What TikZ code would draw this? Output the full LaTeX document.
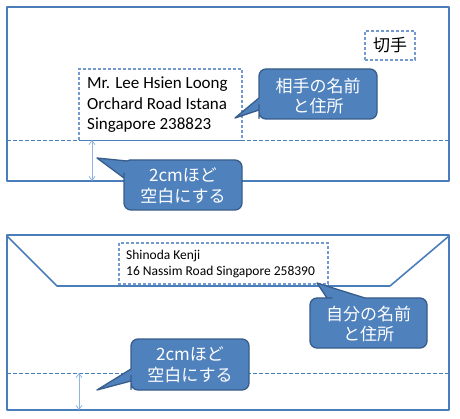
\documentclass[tikz,border=0pt]{standalone}
\usepackage{fontspec}
\setmainfont{Carlito}
\newfontfamily\jp{Noto Sans CJK JP}
\usetikzlibrary{arrows.meta}
\definecolor{envline}{HTML}{4A7EBB}
\definecolor{calfill}{HTML}{4F81BD}
\definecolor{calline}{HTML}{385D8A}
\definecolor{dashc}{HTML}{7399CF}
\definecolor{arrc}{HTML}{8DB3E2}
\begin{document}
\begin{tikzpicture}[x=1pt,y=-1pt,
  envelope/.style={draw=envline,line width=1.8pt,line join=round},
  guide/.style={draw=envline,line width=0.9pt,dash pattern=on 3.5pt off 2.5pt},
  addrbox/.style={draw=dashc,line width=1.1pt,dash pattern=on 3pt off 2pt},
  stampbox/.style={draw=dashc,line width=1.1pt,dash pattern=on 3pt off 2pt,inner sep=0pt,
    minimum width=50pt,minimum height=29pt,font=\jp\fontsize{17}{20}\selectfont,text=black},
  calloutshape/.style={fill=calfill,draw=calline,line width=1.3pt,line join=round},
  callouttext/.style={text=white,font=\jp\fontsize{17}{20.5}\selectfont,align=center,inner sep=0pt},
  addrtext/.style={text=black,align=left,inner sep=0pt},
  gap/.style={draw=arrc,line width=0.8pt,{Straight Barb[length=4pt,width=6pt]}-{Straight Barb[length=4pt,width=6pt]}}
]
\useasboundingbox[fill=white] (0,0) rectangle (460,419);

% ---------- top envelope ----------
\draw[envelope] (7,7) rectangle (449,181);
\draw[guide] (7,140) -- (449,140);
\draw[addrbox] (79,140) -- (79,69) -- (242,69) -- (242,140);
\draw[draw=envline,line width=0.9pt] (79,140) -- (242,140);
\node[addrtext,font=\fontsize{17}{20.5}\selectfont,anchor=west] (addr1) at (87,105)
  {Mr. Lee Hsien Loong\\Orchard Road Istana\\Singapore 238823};
\node[stampbox] (stamp) at (390,45.5) {切手};
\coordinate (g1top) at (92,140);
\coordinate (g1bot) at (92,181);
\draw[gap] (g1top) -- (g1bot);

% callout: recipient
\path[calloutshape] (318,69) [rounded corners=7pt] -- (377,69) -- (377,119) -- (259,119)
  -- (259,111.5) [sharp corners] -- (259,110) -- (235,118) -- (259,98) -- (259,96.5)
  [rounded corners=7pt] -- (259,69) -- cycle;
\node[callouttext] (c1) at (318,96) {相手の名前\\と住所};

% callout: margin (top)
\path[calloutshape] (183,160) [rounded corners=7pt] -- (242,160) -- (242,210) -- (124,210)
  -- (124,180) [sharp corners] -- (124,178) -- (97,158) -- (127,161) -- (130,160) -- cycle;
\node[callouttext] (c2) at (183,186) {2cmほど\\空白にする};

% ---------- bottom envelope ----------
\draw[envelope] (7,235) rectangle (449,410);
\draw[envelope,line width=1.6pt] (7,236) -- (57,286) -- (390,286) -- (449,236);
\draw[guide] (7,373) -- (449,373);
\draw[addrbox] (119,243) rectangle (328,284);
\node[addrtext,font=\fontsize{13.5}{16}\selectfont,anchor=west] (addr2) at (126,264)
  {Shinoda Kenji\\16 Nassim Road Singapore 258390};
\coordinate (g2top) at (79,373);
\coordinate (g2bot) at (79,410);
\draw[gap] (g2top) -- (g2bot);

% callout: sender
\path[calloutshape] (427,323) [rounded corners=7pt] -- (427,348) -- (310,348) -- (310,298)
  -- (325,298) [sharp corners] -- (327,298) -- (317,283) -- (365,298) -- (367,298)
  [rounded corners=7pt] -- (427,298) -- cycle;
\node[callouttext] (c3) at (368.5,324) {自分の名前\\と住所};

% callout: margin (bottom)
\path[calloutshape] (190,339) [rounded corners=7pt] -- (249,339) -- (249,390) -- (131,390)
  -- (131,382.5) [sharp corners] -- (131,381) -- (97,390) -- (131,369) -- (131,367.5)
  [rounded corners=7pt] -- (131,339) -- cycle;
\node[callouttext] (c4) at (190,365) {2cmほど\\空白にする};
\end{tikzpicture}
\end{document}
